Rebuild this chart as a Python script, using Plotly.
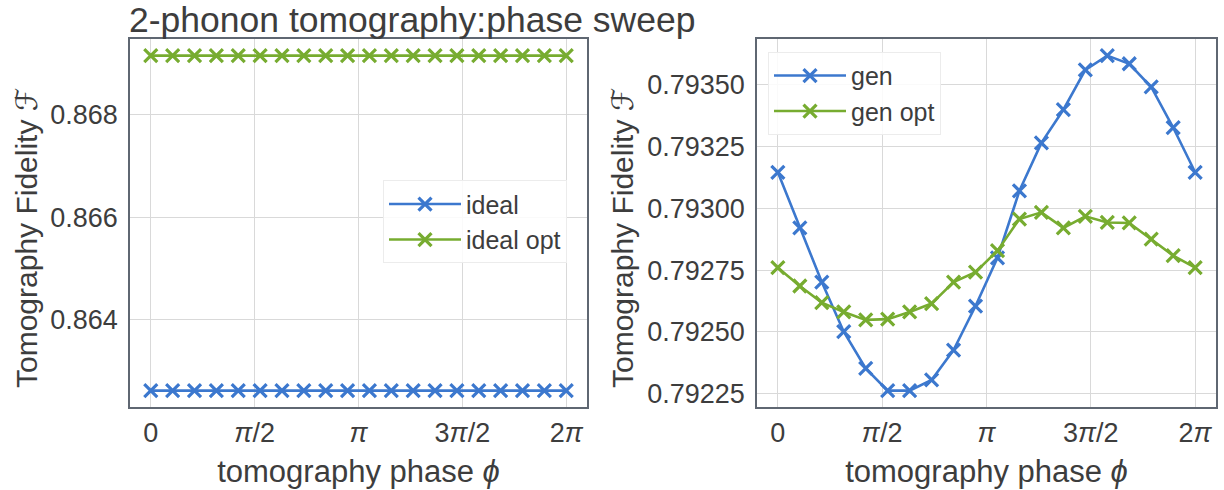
import numpy as np
import plotly.graph_objects as go

# tomography phase grid (20 samples over one period)
phase = np.linspace(0, 2 * np.pi, 20)

# left panel: ideal state fidelities
ideal = [0.862624, 0.862624, 0.862624, 0.862624, 0.862624, 0.862624, 0.862624,
         0.862624, 0.862624, 0.862624, 0.862624, 0.862624, 0.862624, 0.862624,
         0.862624, 0.862624, 0.862624, 0.862624, 0.862624, 0.862624]
ideal_opt = [0.869149, 0.869149, 0.869149, 0.869149, 0.869149, 0.869149, 0.869149,
             0.869149, 0.869149, 0.869149, 0.869149, 0.869149, 0.869149, 0.869149,
             0.869149, 0.869149, 0.869149, 0.869149, 0.869149, 0.869149]

# right panel: generated state fidelities
gen = [0.793146, 0.792921, 0.792702, 0.792501, 0.792353, 0.792263, 0.792263,
       0.792306, 0.792427, 0.792605, 0.792800, 0.793071, 0.793265, 0.793399,
       0.793560, 0.793618, 0.793585, 0.793491, 0.793327, 0.793146]
gen_opt = [0.792760, 0.792686, 0.792619, 0.792581, 0.792549, 0.792552, 0.792581,
           0.792615, 0.792702, 0.792742, 0.792829, 0.792957, 0.792984, 0.792921,
           0.792968, 0.792943, 0.792941, 0.792876, 0.792809, 0.792760]

x_tickvals = [0, np.pi / 2, np.pi, 3 * np.pi / 2, 2 * np.pi]
x_ticktext = ["0", "<i>π</i>/2", "<i>π</i>", "3<i>π</i>/2", "2<i>π</i>"]
left_yticks = [0.864, 0.866, 0.868]
right_yticks = [0.79225, 0.79250, 0.79275, 0.79300, 0.79325, 0.79350]

BLUE = "#3C78CE"
GREEN = "#77AC30"
TEXT = "#3d3d3d"
SPINE = "#5f6772"
GRID = "#d9d9d9"
FONT = "Liberation Sans, Arial, sans-serif"

W, H = 1224, 490
fig = go.Figure()


def add_series(y, name, color, xa, ya, legend):
    fig.add_trace(go.Scatter(
        x=phase, y=y, name=name, mode="lines+markers",
        xaxis=xa, yaxis=ya, legend=legend,
        line=dict(color=color, width=2.6),
        marker=dict(symbol="x-thin", size=13, color=color,
                    line=dict(color=color, width=3.2)),
    ))


add_series(ideal, "ideal", BLUE, "x", "y", "legend")
add_series(ideal_opt, "ideal opt", GREEN, "x", "y", "legend")
add_series(gen, "gen", BLUE, "x2", "y2", "legend2")
add_series(gen_opt, "gen opt", GREEN, "x2", "y2", "legend2")

xpad = 0.05 * 2 * np.pi
xrange_ = [-xpad, 2 * np.pi + xpad]


def yrange(*series):
    lo = min(min(s) for s in series)
    hi = max(max(s) for s in series)
    pad = 0.05 * (hi - lo)
    return [lo - pad, hi + pad]


axis_common = dict(
    showline=True, mirror=True, linecolor=SPINE, linewidth=1.5,
    showgrid=True, gridcolor=GRID, gridwidth=1.4, zeroline=False,
    ticks="", tickfont=dict(family=FONT, size=27, color=TEXT),
    title_font=dict(family=FONT, size=31, color=TEXT),
)

ydom = [1 - 409 / H, 1 - 39 / H]
ytitle = ("Tomography Fidelity "
          "<span style='font-family:DejaVu Sans'><i>ℱ</i></span>")

fig.update_layout(
    width=W, height=H,
    margin=dict(l=0, r=0, t=0, b=0),
    paper_bgcolor="white", plot_bgcolor="white",
    font=dict(family=FONT, color=TEXT),
    showlegend=True,
    title=dict(text="2-phonon tomography:phase sweep",
               x=129 / W, xanchor="left", xref="paper",
               y=1 - 20 / H, yanchor="middle", yref="container",
               font=dict(family=FONT, size=35.5, color=TEXT)),
    xaxis=dict(domain=[130 / W, 587 / W], range=xrange_, anchor="y",
               tickvals=x_tickvals, ticktext=x_ticktext, ticklabelstandoff=1,
               title=dict(text="tomography phase <i>ϕ</i>", standoff=13),
               **axis_common),
    yaxis=dict(domain=ydom, range=yrange(ideal, ideal_opt), anchor="x",
               tickvals=left_yticks, tickformat=".3f", ticklabelstandoff=5,
               **axis_common),
    xaxis2=dict(domain=[757 / W, 1216 / W], range=xrange_, anchor="y2",
                tickvals=x_tickvals, ticktext=x_ticktext, ticklabelstandoff=1,
                title=dict(text="tomography phase <i>ϕ</i>", standoff=13),
                **axis_common),
    yaxis2=dict(domain=ydom, range=yrange(gen, gen_opt), anchor="x2",
                tickvals=right_yticks, tickformat=".5f", ticklabelstandoff=5,
                **axis_common),
    legend=dict(x=383 / W, y=1 - 181 / H, xanchor="left", yanchor="top",
                itemwidth=72,
                bgcolor="rgba(255,255,255,0.85)", bordercolor="#ececec",
                borderwidth=1, font=dict(family=FONT, size=25, color=TEXT)),
    legend2=dict(x=768 / W, y=1 - 52 / H, xanchor="left", yanchor="top",
                 itemwidth=72,
                 bgcolor="rgba(255,255,255,0.85)", bordercolor="#ececec",
                 borderwidth=1, font=dict(family=FONT, size=25, color=TEXT)),
)

# vertical y-axis titles for both panels
for xc in (26, 622):
    fig.add_annotation(text=ytitle, textangle=-90, showarrow=False,
                       xref="paper", yref="paper",
                       x=xc / W, y=1 - 239 / H,
                       xanchor="center", yanchor="middle",
                       font=dict(family=FONT, size=30, color=TEXT))

fig.write_html("out.html")
